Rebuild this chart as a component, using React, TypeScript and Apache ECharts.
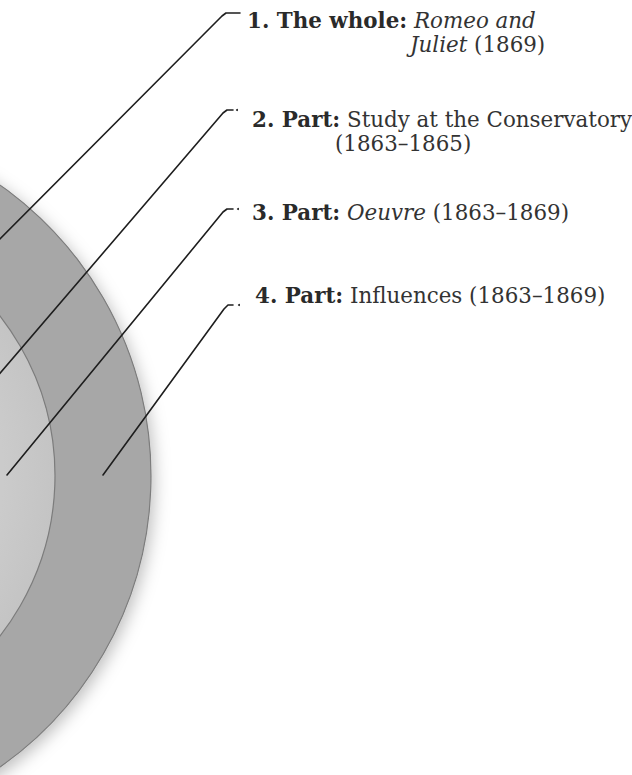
import React, { useEffect, useRef } from "react";
import * as echarts from "echarts";

// ---- data ----
const ringNames = ["Inner circle", "Outer ring"];
const ringValues = [1, 1];
const ringColors = ["#c4c4c4", "#a7a7a7"];

const labelNumbers = ["1.", "2.", "3.", "4."];
const labelHeads = ["The whole:", "Part:", "Part:", "Part:"];
const labelTitles = ["Romeo and Juliet", "Study at the Conservatory", "Oeuvre", "Influences"];
const labelYears = ["(1869)", "(1863–1865)", "(1863–1869)", "(1863–1869)"];

const FONT = "'DejaVu Serif', 'Liberation Serif', Georgia, serif";
const FS = 21.4;

export default function App() {
  const ref = useRef<HTMLDivElement>(null);
  useEffect(() => {
    if (!ref.current) return;
    const chart = echarts.init(ref.current, undefined, { renderer: "svg" });
    const center = [-205, 476];
    const rich = {
      b: { fontFamily: FONT, fontSize: FS, fontWeight: "bold", fill: "#2a2a2a" },
      i: { fontFamily: FONT, fontSize: FS, fontStyle: "italic", fill: "#333" },
      r: { fontFamily: FONT, fontSize: FS, fill: "#333" },
    };
    const txt = (x: number, y: number, text: string) => ({
      type: "text",
      x,
      y,
      z: 20,
      silent: true,
      style: { text, rich, fontFamily: FONT, fontSize: FS, fill: "#333", verticalAlign: "middle", align: "left" },
    });
    const t1 = labelTitles[0].split(" ");
    const texts = [
      txt(247, 20, `{b|${labelNumbers[0]} ${labelHeads[0]}} {i|${t1[0]} ${t1[1]}}`),
      txt(410, 44, `{i|${t1[2]}} {r|${labelYears[0]}}`),
      txt(252, 119, `{b|${labelNumbers[1]} ${labelHeads[1]}} {r|${labelTitles[1]}}`),
      txt(335, 143, `{r|${labelYears[1]}}`),
      txt(252, 212, `{b|${labelNumbers[2]} ${labelHeads[2]}} {i|${labelTitles[2]}} {r|${labelYears[2]}}`),
      txt(255, 295, `{b|${labelNumbers[3]} ${labelHeads[3]}} {r|${labelTitles[3]}} {r|${labelYears[3]}}`),
    ];
    const leaders = [
      { pts: [[-20, 259], [222, 16], [226, 13], [240, 13]], dot: null },
      { pts: [[-10, 385], [223, 113], [227, 110], [233, 110]], dot: [237, 110] },
      { pts: [[7, 475], [223, 212], [227, 209], [233, 209]], dot: [238, 209] },
      { pts: [[103, 475], [224, 309], [228, 305], [233, 305]], dot: [239, 305] },
    ];
    const lineEls: any[] = [];
    leaders.forEach((l) => {
      lineEls.push({
        type: "polyline",
        silent: true,
        z: 20,
        shape: { points: l.pts },
        style: { stroke: "#1e1e1e", lineWidth: 1.6, fill: null, lineJoin: "round", lineCap: "round" },
      });
      if (l.dot) {
        lineEls.push({
          type: "circle",
          silent: true,
          z: 20,
          shape: { cx: l.dot[0], cy: l.dot[1], r: 1 },
          style: { fill: "#1e1e1e" },
        });
      }
    });
    chart.setOption({
      animation: false,
      backgroundColor: "#ffffff",
      series: [
        {
          type: "pie",
          name: ringNames[1],
          center,
          radius: [259, 356],
          silent: true,
          label: { show: false },
          labelLine: { show: false },
          z: 1,
          itemStyle: {
            color: ringColors[1],
            borderColor: "#7c7c7c",
            borderWidth: 1.2,
            shadowBlur: 16,
            shadowColor: "rgba(0,0,0,0.25)",
            shadowOffsetX: 3,
            shadowOffsetY: 5,
          },
          data: [{ name: ringNames[1], value: ringValues[1] }],
        },
        {
          type: "pie",
          name: ringNames[0],
          center,
          radius: [0, 260],
          silent: true,
          label: { show: false },
          labelLine: { show: false },
          z: 2,
          itemStyle: {
            color: {
              type: "radial",
              x: 0.5,
              y: 0.5,
              r: 0.5,
              colorStops: [
                { offset: 0, color: "#d8d8d8" },
                { offset: 0.8, color: "#cbcbcb" },
                { offset: 1, color: ringColors[0] },
              ],
            },
            borderColor: "#7c7c7c",
            borderWidth: 1.2,
          },
          data: [{ name: ringNames[0], value: ringValues[0] }],
        },
      ],
      graphic: [...lineEls, ...texts],
    });
    return () => chart.dispose();
  }, []);
  return (
    <div
      ref={ref}
      style={{ position: "fixed", left: 0, top: 0, width: 632, height: 775 }}
    />
  );
}
